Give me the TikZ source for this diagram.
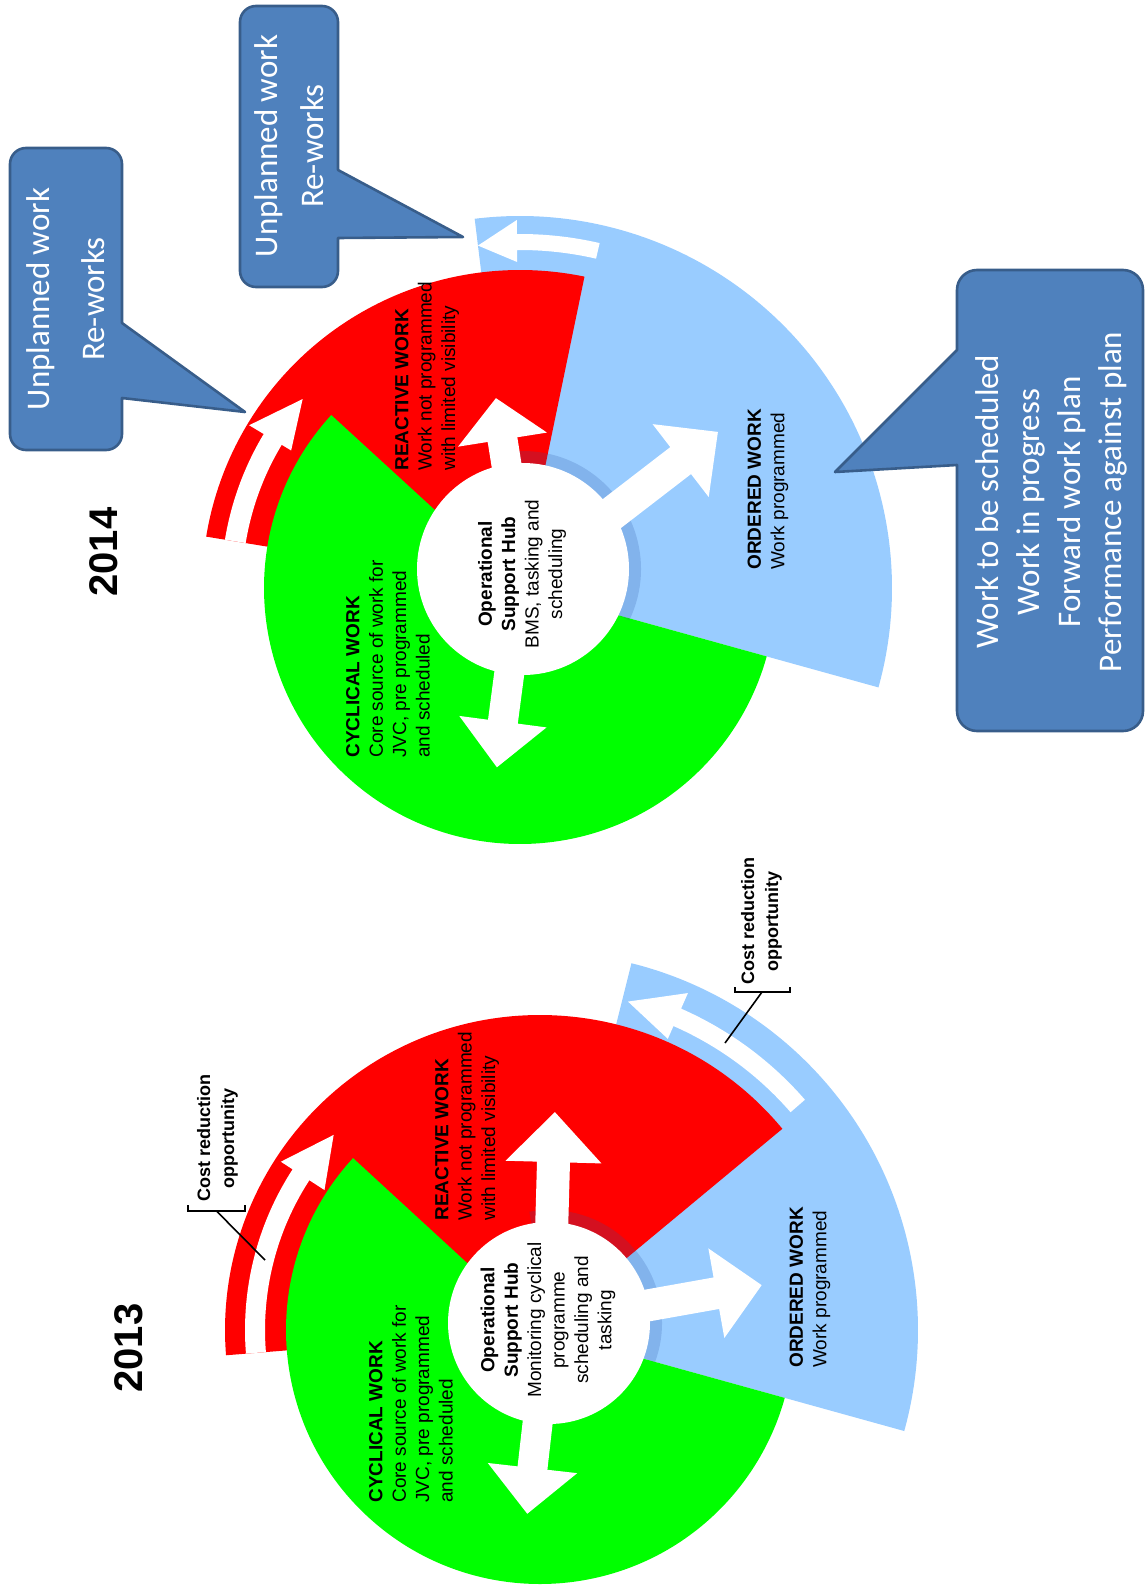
\documentclass[tikz,border=0pt]{standalone}
\usepackage{fontspec}
\setmainfont{Liberation Sans}
\newfontfamily\calibri{Carlito}
\usetikzlibrary{calc}
\definecolor{gw}{HTML}{00FF00}
\definecolor{rw}{HTML}{FF0000}
\definecolor{bw}{HTML}{99CCFF}
\definecolor{cfill}{HTML}{4F81BD}
\definecolor{cline}{HTML}{385D8A}
\definecolor{ringc}{RGB}{40,80,160}
\newcommand\blockarrow[7]{\begin{scope}[shift={(#1,#2)},rotate=#3]\fill[white] (0,{-#5/2}) -- ({#4-#7},{-#5/2}) -- ({#4-#7},{-#6/2}) -- (#4,0) -- ({#4-#7},{#6/2}) -- ({#4-#7},{#5/2}) -- (0,{#5/2}) -- cycle;\end{scope}}
\begin{document}
\begin{tikzpicture}[x=0.5pt,y=0.5pt,
  lbl/.style={rotate=90,anchor=west,align=left,inner sep=0pt,font=\fontsize{9.5}{11.7}\selectfont},
  hubtxt/.style={rotate=90,align=center,inner sep=0pt,font=\fontsize{9.5}{11.7}\selectfont},
  call/.style={fill=cfill,draw=cline,line width=1.3pt,line join=round},
  calltxt/.style={rotate=90,align=center,text=white,inner sep=0pt},
  cost/.style={rotate=90,anchor=west,align=center,inner sep=0pt,font=\fontsize{9}{12}\selectfont\bfseries},
  yr/.style={rotate=90,inner sep=0pt,font=\fontsize{20}{24}\selectfont\bfseries},
  hubshade/.style={fill=ringc,opacity=0.2},
  brk/.style={draw=black,line width=0.8pt}]
\useasboundingbox (0,0) rectangle (1146,-1589);

% ---------------- 2014 ----------------
\coordinate (Q14) at (520,-588);
\coordinate (H14) at (523,-569);
\fill[bw] (Q14) -- ($(Q14)+(-15.5:372)$) arc[start angle=-15.5,end angle=97,radius=372] -- cycle;
\fill[rw] (Q14) -- ($(Q14)+(78.3:318)$) arc[start angle=78.3,end angle=170.7,radius=318] -- cycle;
\fill[gw] (Q14) -- ($(Q14)+(137.5:256)$) arc[start angle=137.5,end angle=344.5,radius=256] -- cycle;
\fill[hubshade] (H14) -- ($(H14)+(-25.8:118)$) arc[start angle=-25.8,end angle=100,radius=118] -- cycle;
\fill[white] (H14) circle[radius=106];
\blockarrow{523}{-569}{99}{173}{30}{90}{42}
\blockarrow{523}{-569}{262.5}{200}{30}{88}{46}
\blockarrow{523}{-582}{37.6}{246}{34}{92}{47}
% band arrows
\fill[white] ($(Q14)+(170.7:278)$) arc[start angle=170.7,end angle=149,radius=278] -- ($(Q14)+(149:267)$) -- ($(Q14)+(139:288)$) -- ($(Q14)+(149:316)$) -- ($(Q14)+(149:299)$) arc[start angle=149,end angle=170.7,radius=299] -- cycle;
\fill[white] ($(Q14)+(77:338)$) arc[start angle=77,end angle=90.5,radius=338] -- ($(Q14)+(90.5:326)$) -- ($(Q14)+(97:345)$) -- ($(Q14)+(90.5:368)$) -- ($(Q14)+(90.5:354)$) arc[start angle=90.5,end angle=77,radius=354] -- cycle;
% texts
\node[yr] (y14) at (104,-552) {2014};
\node[lbl] (rw14) at (427,-471) {\textbf{REACTIVE WORK}\\Work not programmed\\with limited visibility};
\node[lbl] (cw14) at (388,-758) {\textbf{CYCLICAL WORK}\\Core source of work for\\JVC, pre programmed\\and scheduled};
\node[lbl] (ow14) at (768,-570) {\textbf{ORDERED WORK}\\Work programmed};
\node[hubtxt] (hub14) at (522,-574) {\textbf{Operational}\\\textbf{Support Hub}\\BMS, tasking and\\scheduling};

% ---------------- 2013 ----------------
\coordinate (C13) at (540,-1330);
\coordinate (H13) at (549,-1323);
\fill[bw] (C13) -- ($(C13)+(-15.5:378)$) arc[start angle=-15.5,end angle=76,radius=378] -- cycle;
\fill[rw] (C13) -- ($(C13)+(39.7:315)$) arc[start angle=39.7,end angle=184.6,radius=315] -- cycle;
\fill[gw] (C13) -- ($(C13)+(137.4:254)$) arc[start angle=137.4,end angle=344.5,radius=254] -- cycle;
\fill[hubshade] (H13) -- ($(H13)+(-20.4:113)$) arc[start angle=-20.4,end angle=100,radius=113] -- cycle;
\fill[white] (H13) circle[radius=101];
\blockarrow{549}{-1323}{88.4}{211}{33}{96}{50}
\blockarrow{549}{-1323}{263.5}{192}{30}{90}{46}
\blockarrow{549}{-1323}{10.1}{216}{32}{91}{46}
\fill[white] ($(C13)+(184.6:275)$) arc[start angle=184.6,end angle=147,radius=275] -- ($(C13)+(147:257)$) -- ($(C13)+(136.6:284)$) -- ($(C13)+(147:309)$) -- ($(C13)+(147:295)$) arc[start angle=147,end angle=184.6,radius=295] -- cycle;
\fill[white] ($(C13)+(41:332)$) arc[start angle=41,end angle=66.3,radius=332] -- ($(C13)+(66.3:318)$) -- ($(C13)+(75:340)$) -- ($(C13)+(66.3:368)$) -- ($(C13)+(66.3:351)$) arc[start angle=66.3,end angle=41,radius=351] -- cycle;
\node[yr] (y13) at (129,-1348) {2013};
\node[lbl] (rw13) at (467,-1221) {\textbf{REACTIVE WORK}\\Work not programmed\\with limited visibility};
\node[lbl] (cw13) at (411,-1503) {\textbf{CYCLICAL WORK}\\Core source of work for\\JVC, pre programmed\\and scheduled};
\node[lbl] (ow13) at (810,-1368) {\textbf{ORDERED WORK}\\Work programmed};
\node[hubtxt] (hub13) at (548,-1320) {\textbf{Operational}\\\textbf{Support Hub}\\Monitoring cyclical\\programme\\scheduling and\\tasking};

% cost reduction labels
\node[cost] (cr1) at (217.5,-1202) {Cost reduction\\opportunity};
\node[cost] (cr2) at (761.5,-985) {Cost reduction\\opportunity};
\coordinate (b1) at (216.5,-1211);
\coordinate (l1) at (265,-1260);
\draw[brk] (188,-1205) -- (188,-1211) -- (245,-1211) -- (245,-1205);
\draw[brk] (b1) -- (l1);
\coordinate (b2) at (762,-992);
\coordinate (l2) at (725,-1043);
\draw[brk] (735,-987) -- (735,-992) -- (790,-992) -- (790,-987);
\draw[brk] (b2) -- (l2);

% callouts
\draw[call] (122,-323) -- (122,-164) arc[start angle=0,end angle=90,radius=16] -- (26,-148) arc[start angle=90,end angle=180,radius=16] -- (10,-434) arc[start angle=180,end angle=270,radius=16] -- (106,-450) arc[start angle=270,end angle=360,radius=16] -- (122,-398) -- (245,-412) -- cycle;
\node[calltxt,font=\calibri\fontsize{16.5}{27.5}\selectfont] (ca) at (66,-299) {Unplanned work\\Re-works};
\draw[call] (338,-170) -- (338,-22) arc[start angle=0,end angle=90,radius=16] -- (256,-6) arc[start angle=90,end angle=180,radius=16] -- (240,-271) arc[start angle=180,end angle=270,radius=16] -- (322,-287) arc[start angle=270,end angle=360,radius=16] -- (338,-238) -- (463,-237) -- cycle;
\node[calltxt,font=\calibri\fontsize{16.5}{23}\selectfont] (cb) at (289,-146) {Unplanned work\\Re-works};
\draw[call] (957,-350) -- (957,-290) arc[start angle=180,end angle=90,radius=20] -- (1123,-270) arc[start angle=90,end angle=0,radius=20] -- (1143,-711) arc[start angle=0,end angle=-90,radius=20] -- (977,-731) arc[start angle=-90,end angle=-180,radius=20] -- (957,-465) -- (835,-472) -- cycle;
\node[calltxt,font=\calibri\fontsize{16.5}{20.5}\selectfont] (cc) at (1051,-502) {Work to be scheduled\\Work in progress\\Forward work plan\\Performance against plan};
\end{tikzpicture}
\end{document}
